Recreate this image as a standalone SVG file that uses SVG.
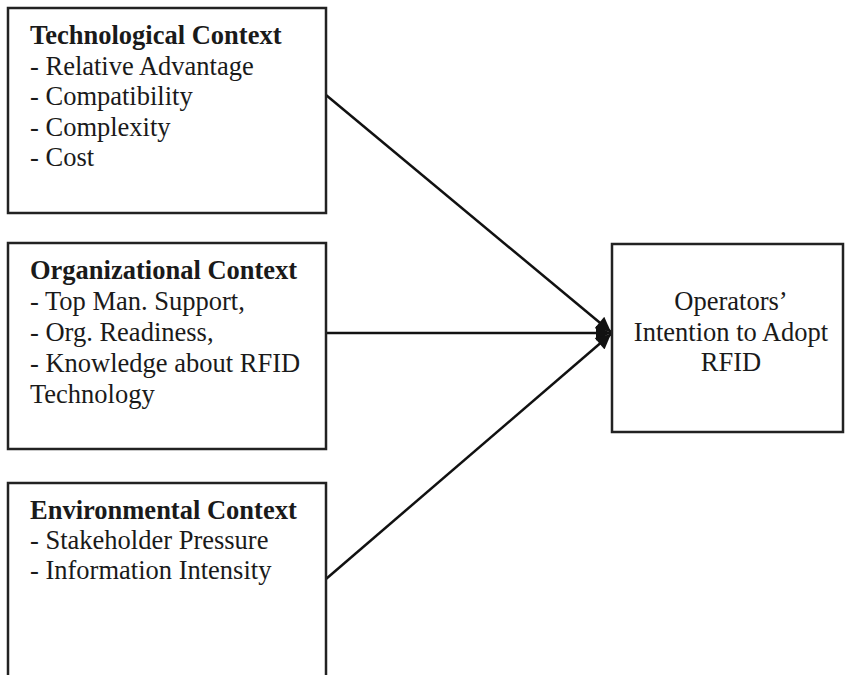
<svg xmlns="http://www.w3.org/2000/svg" width="845" height="675" viewBox="0 0 845 675">
<defs>
<style>
.box{fill:#fff;stroke:#222;stroke-width:2.5}
.t{font-family:"Liberation Serif","Times New Roman",serif;font-size:26.5px;fill:#1a1a1a}
.b{font-weight:bold}
.c{text-anchor:middle}
.ln{stroke:#111;stroke-width:2.5;fill:none;marker-end:url(#ah)}
</style>
<marker id="ah" viewBox="0 0 10 10" refX="10" refY="5" markerWidth="8" markerHeight="6" markerUnits="strokeWidth" orient="auto">
<path d="M0,0 L10,5 L0,10 Z" fill="#111"/>
</marker>
</defs>
<rect width="845" height="675" fill="#fff"/>
<g id="connectors">
<line class="ln" x1="326" y1="95" x2="611" y2="332"/>
<line class="ln" x1="326" y1="333" x2="611" y2="333"/>
<line class="ln" x1="326" y1="579" x2="611" y2="334"/>
</g>
<g id="technological">
<rect class="box" x="8" y="8" width="318" height="205"/>
<text class="t b" x="30" y="44">Technological Context</text>
<text class="t" x="30" y="74.5">- Relative Advantage</text>
<text class="t" x="30" y="105">- Compatibility</text>
<text class="t" x="30" y="135.5">- Complexity</text>
<text class="t" x="30" y="166">- Cost</text>
</g>
<g id="organizational">
<rect class="box" x="8" y="243" width="318" height="206"/>
<text class="t b" x="30" y="279">Organizational Context</text>
<text class="t" x="30" y="310">- Top Man. Support,</text>
<text class="t" x="30" y="341">- Org. Readiness,</text>
<text class="t" x="30" y="372">- Knowledge about RFID</text>
<text class="t" x="30" y="403">Technology</text>
</g>
<g id="environmental">
<rect class="box" x="8" y="483" width="318" height="210"/>
<text class="t b" x="30" y="519">Environmental Context</text>
<text class="t" x="30" y="549">- Stakeholder Pressure</text>
<text class="t" x="30" y="579">- Information Intensity</text>
</g>
<g id="intention">
<rect class="box" x="612" y="244" width="231" height="188"/>
<text class="t c" x="731" y="310">Operators’</text>
<text class="t c" x="731" y="341">Intention to Adopt</text>
<text class="t c" x="731" y="371">RFID</text>
</g>
</svg>
